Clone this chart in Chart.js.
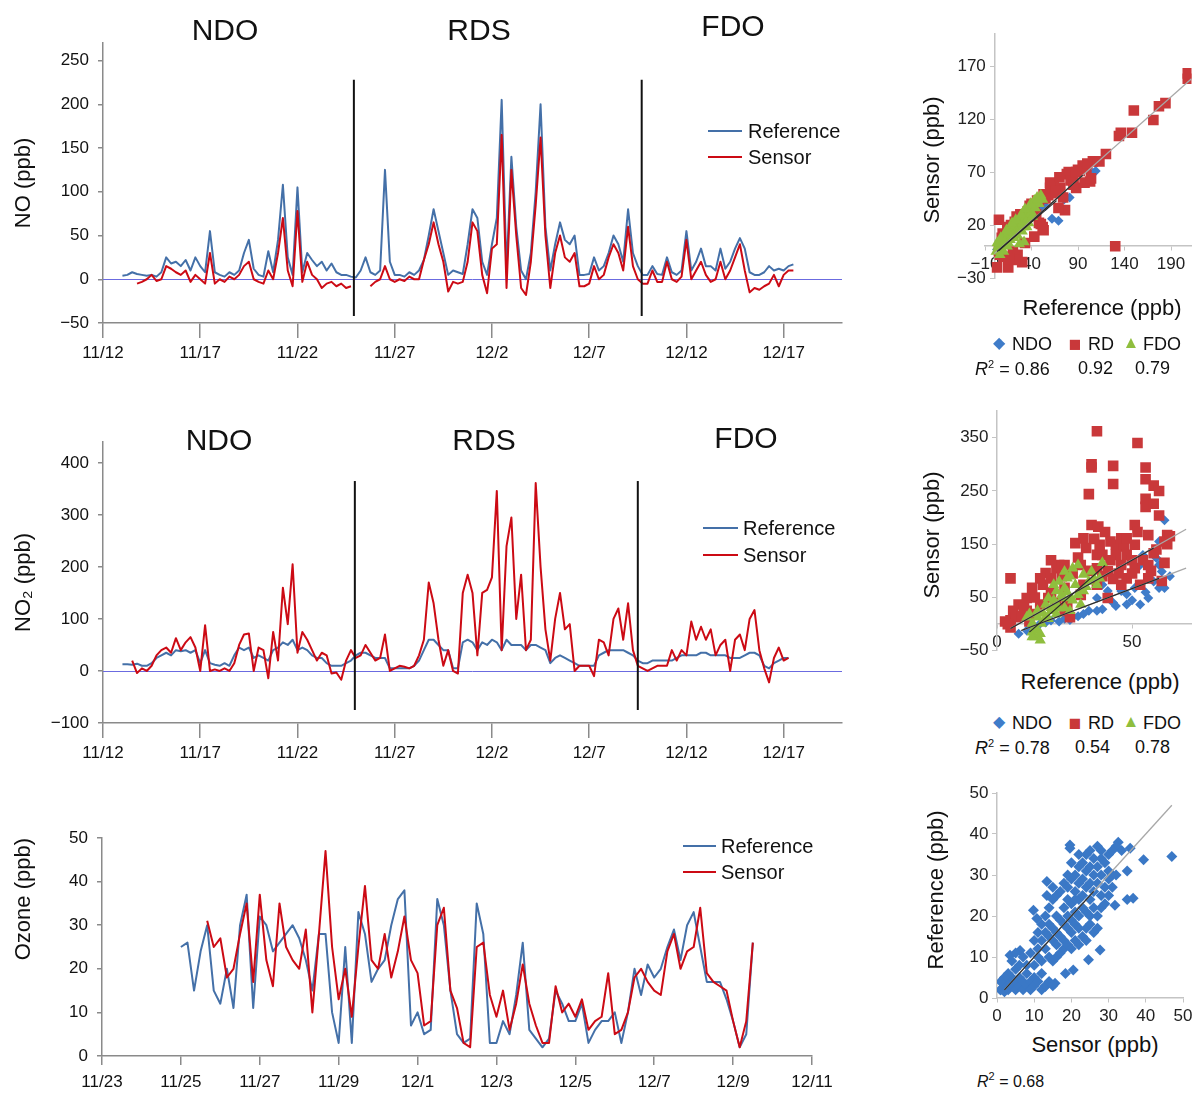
<!DOCTYPE html>
<html>
<head>
<meta charset="utf-8">
<title>NO, NO2 and ozone: sensor vs reference</title>
<script src="https://cdn.jsdelivr.net/npm/chart.js@4.4.1/dist/chart.umd.min.js"></script>
<style>
  body { margin: 0; background: #fff; font-family: "Liberation Sans", Arial, sans-serif; color: #111; }
  #page { position: relative; width: 1199px; height: 1094px; overflow: hidden; background: #fff; }
  canvas { position: absolute; }
  .t { position: absolute; white-space: nowrap; line-height: 1; transform: translate(-50%, -50%); }
  .tl { position: absolute; white-space: nowrap; line-height: 1; transform: translateY(-50%); }
  .rot { transform: translate(-50%, -50%) rotate(-90deg); }
  .sw { position: absolute; height: 0; border-top: 2px solid; }
  .big { font-size: 30px; }
  .leg { font-size: 20px; }
  .ttl { font-size: 22px; }
  .sm { font-size: 18px; }
  sup { font-size: 11px; vertical-align: 7px; }
</style>
</head>
<body>
<div id="page">
  <canvas id="noChart" width="860" height="380" style="left:0;top:0"></canvas>
  <canvas id="no2Chart" width="860" height="400" style="left:0;top:390px"></canvas>
  <canvas id="ozoneChart" width="860" height="304" style="left:0;top:790px"></canvas>
  <canvas id="noScatter" width="299" height="280" style="left:900px;top:20px"></canvas>
  <canvas id="no2Scatter" width="299" height="270" style="left:900px;top:395px"></canvas>
  <canvas id="ozoneScatter" width="299" height="260" style="left:900px;top:770px"></canvas>

  <!-- period labels -->
  <div class="t big" style="left:225px;top:30px">NDO</div>
  <div class="t big" style="left:479px;top:30px">RDS</div>
  <div class="t big" style="left:733px;top:26px">FDO</div>
  <div class="t big" style="left:219px;top:440px">NDO</div>
  <div class="t big" style="left:484px;top:440px">RDS</div>
  <div class="t big" style="left:746px;top:438px">FDO</div>

  <!-- time series legends -->
  <div class="sw" style="left:708px;top:130px;width:34px;border-color:#4470a8"></div>
  <div class="tl leg" style="left:748px;top:131px">Reference</div>
  <div class="sw" style="left:708px;top:156px;width:34px;border-color:#cc0a14"></div>
  <div class="tl leg" style="left:748px;top:157px">Sensor</div>

  <div class="sw" style="left:703px;top:527px;width:35px;border-color:#4470a8"></div>
  <div class="tl leg" style="left:743px;top:528px">Reference</div>
  <div class="sw" style="left:703px;top:554px;width:35px;border-color:#cc0a14"></div>
  <div class="tl leg" style="left:743px;top:555px">Sensor</div>

  <div class="sw" style="left:683px;top:845px;width:33px;border-color:#4470a8"></div>
  <div class="tl leg" style="left:721px;top:846px">Reference</div>
  <div class="sw" style="left:683px;top:871px;width:33px;border-color:#cc0a14"></div>
  <div class="tl leg" style="left:721px;top:872px">Sensor</div>

  <!-- scatter 1 captions -->
  <div class="t ttl rot" style="left:932px;top:160px">Sensor (ppb)</div>
  <div class="t ttl" style="left:1102px;top:308px">Reference (ppb)</div>
  <div class="t" style="left:999px;top:343px;font-size:16px;color:#3f7cc9">&#9670;</div>
  <div class="tl sm" style="left:1012px;top:344px">NDO</div>
  <div class="t" style="left:1075px;top:343px;font-size:21px;color:#c9383a">&#9632;</div>
  <div class="tl sm" style="left:1088px;top:344px">RD</div>
  <div class="t" style="left:1131px;top:342px;font-size:17px;color:#8fbe3e">&#9650;</div>
  <div class="tl sm" style="left:1143px;top:344px">FDO</div>
  <div class="tl sm" style="left:975px;top:368px"><i>R</i><sup>2</sup> = 0.86</div>
  <div class="tl sm" style="left:1078px;top:368px">0.92</div>
  <div class="tl sm" style="left:1135px;top:368px">0.79</div>

  <!-- scatter 2 captions -->
  <div class="t ttl rot" style="left:932px;top:535px">Sensor (ppb)</div>
  <div class="t ttl" style="left:1100px;top:682px">Reference (ppb)</div>
  <div class="t" style="left:999px;top:722px;font-size:16px;color:#3f7cc9">&#9670;</div>
  <div class="tl sm" style="left:1012px;top:723px">NDO</div>
  <div class="t" style="left:1075px;top:722px;font-size:21px;color:#c9383a">&#9632;</div>
  <div class="tl sm" style="left:1088px;top:723px">RD</div>
  <div class="t" style="left:1131px;top:721px;font-size:17px;color:#8fbe3e">&#9650;</div>
  <div class="tl sm" style="left:1143px;top:723px">FDO</div>
  <div class="tl sm" style="left:975px;top:747px"><i>R</i><sup>2</sup> = 0.78</div>
  <div class="tl sm" style="left:1075px;top:747px">0.54</div>
  <div class="tl sm" style="left:1135px;top:747px">0.78</div>

  <!-- scatter 3 captions -->
  <div class="t ttl rot" style="left:936px;top:890px">Reference (ppb)</div>
  <div class="t ttl" style="left:1095px;top:1045px">Sensor (ppb)</div>
  <div class="tl" style="left:977px;top:1080px;font-size:16px"><i>R</i><sup>2</sup> = 0.68</div>
</div>

<script>
Chart.defaults.font.family = '"Liberation Sans", Arial, sans-serif';
Chart.defaults.color = '#111';

// ---- time series (days since 11/12, one value every 6 h) ----
const noStart = 1, noStep = 0.25;
const noReference = [
  4, 5, 8, 6, 5, 4, 5, 3,
  8, 25, 18, 20, 15, 22, 10, 25,
  15, 8, 55, 8, 5, 3, 8, 5,
  10, 30, 45, 12, 5, 3, 32, 8,
  45, 108, 25, 5, 105, 8, 30, 22,
  15, 20, 10, 18, 8, 5, 5, 3,
  2, 10, 25, 8, 5, 10, 125, 20,
  5, 5, 3, 8, 5, 10, 22, 50,
  80, 55, 30, 5, 10, 8, 6, 40,
  80, 70, 20, 5, 40, 70, 205, 10,
  140, 60, 10, 0, 30, 100, 200, 60,
  10, 40, 65, 45, 40, 50, 5, 5,
  6, 25, 10, 15, 30, 50, 40, 20,
  80, 30, 15, 5, 5, 15, 6, 5,
  25, 8, 5, 10, 55, 10, 20, 35,
  15, 15, 10, 35, 12, 20, 35, 47,
  35, 8, 5, 5, 8, 15, 10, 12,
  10, 15, 17
];
const noSensor = [
  null, null, null, -5, -3, 0, 5, -2,
  0, 15, 12, 8, 5, 10, -3, 5,
  0, -5, 30, -5, 0, -3, 3, 0,
  5, 15, 20, 0, -3, -5, 10, 0,
  30, 70, 10, -8, 78, -3, 20, 5,
  0, -10, -5, -3, -8, -5, -10, -8,
  null, null, null, -8, -3, 0, 15, 0,
  -3, 0, -2, 3, 0, 0, 22, 40,
  65, 40, 20, -14, -3, -5, -3, 20,
  65, 55, 5, -16, 35, 40, 165, -10,
  125, 50, -10, -18, 20, 85, 162, 50,
  -10, 30, 50, 25, 20, 30, -8, -8,
  -5, 15, 0, 5, 25, 40, 30, 10,
  60, 15, 0, -5, -5, 10, -3, -3,
  20, 0, -3, 3, 45, 0, 10, 20,
  5, -3, 0, 20, 0, 10, 25, 40,
  10, -15, -10, -12, -8, -5, 5, -8,
  5, 10, 10
];

const no2Start = 1, no2Step = 0.25;
const no2Reference = [
  13, 13, 12, 14, 10, 10, 15, 25,
  30, 35, 30, 40, 38, 40, 35, 40,
  15, 40, 15, 12, 10, 15, 10, 30,
  45, 40, 45, 25, 30, 25, 20, 40,
  45, 55, 50, 60, 40, 45, 40, 30,
  25, 25, 15, 10, 10, 10, 15, 20,
  30, 35, 35, 30, 25, 25, 25, 5,
  5, 5, 5, 5, 10, 20, 40, 60,
  60, 50, 40, 40, 5, 5, 55, 60,
  55, 40, 55, 50, 60, 55, 40, 60,
  50, 50, 50, 40, 50, 50, 45, 40,
  15, 25, 30, 25, 20, 15, 10, 10,
  10, 10, 30, 35, 40, 40, 40, 40,
  35, 30, 20, 15, 15, 20, 20, 20,
  20, 20, 25, 30, 30, 30, 30, 35,
  35, 30, 30, 30, 30, 25, 25, 25,
  30, 35, 35, 30, 10, 5, 15, 20,
  25, 25
];
const no2Sensor = [
  null, null, 20, -4, 5, 0, 10, 30,
  40, 45, 35, 63, 40, 55, 65, 45,
  0, 88, 0, 3, 0, 5, 0, 15,
  50, 70, 72, 0, 45, 40, -14, 75,
  20, 160, 90, 205, 35, 75, 60, 40,
  20, 35, 30, -5, -3, -17, 20, 40,
  25, 30, 50, 35, 20, 25, 70, 0,
  5, 10, 8, 5, 10, 30, 60, 170,
  130, 60, 10, 40, 0, -5, 150, 185,
  150, 30, 150, 156, 180, 346, 40, 240,
  295, 100, 185, 40, 60, 361, 200, 80,
  20, 100, 150, 80, 90, 0, 10, 10,
  10, -10, 60, 55, 30, 100, 120, 60,
  130, 40, 10, 5, 0, 5, 10, 10,
  10, 40, 20, 40, 30, 95, 60, 85,
  60, 80, 30, 50, 60, 0, 60, 70,
  40, 100, 117, 40, 5, -22, 25, 45,
  20, 25
];

// days since 11/23, one value every 4 h
const ozoneStart = 2, ozoneStep = 1 / 6;
const ozoneReference = [
  25, 26, 15, 24, 30, 15,
  12, 20, 11, 30, 37, 11,
  32, 30, 24, 26, 28, 30,
  27, 22, 15, 28, 28, 10,
  3, 25, 3, 33, 28, 17,
  20, 22, 30, 36, 38, 7,
  10, 5, 6, 36, 30, 15,
  5, 3, 4, 35, 28, 3,
  3, 8, 5, 14, 26, 6,
  4, 2, 4, 15, 12, 8,
  8, 12, 3, 6, 8, 8,
  10, 3, 10, 20, 14, 21,
  18, 20, 25, 29, 22, 30,
  33, 25, 17, 17, 17, 13,
  8, 2, 5, 26
];
const ozoneSensor = [
  null, null, null, null, 31, 25,
  27, 18, 20, 28, 35, 17,
  37, 22, 16, 35, 25, 22,
  20, 29, 10, 28, 47, 25,
  13, 20, 9, 25, 39, 22,
  20, 28, 18, 24, 32, 22,
  19, 7, 8, 30, 34, 15,
  11, 3, 2, 25, 26, 14,
  9, 15, 6, 12, 21, 12,
  7, 3, 3, 16, 10, 12,
  9, 13, 6, 8, 9, 19,
  5, 6, 10, 18, 20, 17,
  15, 14, 24, 28, 20, 24,
  25, 34, 19, 17, 16, 15,
  8, 2, 8, 26
];

const studyDates = ['11/12', '11/17', '11/22', '11/27', '12/2', '12/7', '12/12', '12/17'];
const ozoneDates = ['11/23', '11/25', '11/27', '11/29', '12/1', '12/3', '12/5', '12/7', '12/9', '12/11'];
const noYTicks = [-50, 0, 50, 100, 150, 200, 250];
const no2YTicks = [-100, 0, 100, 200, 300, 400];
const ozoneYTicks = [0, 10, 20, 30, 40, 50];

// period boundaries (day) and the y range the divider spans
const noBreaks = [12.9, 27.7], noBreakSpan = [-42, 228];
const no2Breaks = [12.95, 27.5], no2BreakSpan = [-75, 365];

// ---- scatter: NO (x = reference, y = sensor) ----
const noNdoRef = [109, 106, 81, 75, 62, 69, 55, 45, 35, 30, 20, 15, 10, 8, 5, 3, 25, 40, 50, 18, 12, 28, 7];
const noNdoSen = [71, 69, 46, 44, 26, 24, 38, 30, 25, 20, 12, 8, 5, 3, 0, -3, 15, 28, 35, 14, 10, 18, 6];
const noRdRef = [
  208, 208, 184, 177, 171, 150, 148, 134, 136, 120, 106, 113, 99, 103, 92, 85, 88, 78, 71, 64,
  74, 76, 60, 53, 46, 50, 53, 43, 36, 29, 22, 15, 8, 5, 130, 10, 20, 30, 15, 25,
  22, 33, 43, 69, 85, 97, 104, 40, 45, 58, 65, 35, 28, 18, 12, 5, 3, 80, 90, 95,
  60, 66, 70, 82, 88, 100, 55, 48, 38, 32, 24, 14, 9, 6, 16, 48, 52
];
const noRdSen = [
  163, 158, 135, 132, 119, 128, 107, 104, 107, 87, 80, 80, 74, 61, 71, 64, 55, 68, 55, 58,
  46, 34, 55, 49, 43, 21, 15, 36, 33, 27, 23, 15, 8, 25, 0, -10, -5, -15, -20, -8,
  -13, 3, 9, 36, 58, 60, 64, 40, 30, 48, 50, 28, 30, 20, 5, -5, -20, 70, 72, 76,
  60, 52, 65, 62, 70, 78, 45, 42, 38, 25, 28, 18, 12, -8, -12, 22, 18
];
const noFdoRef = [
  2, 4, 5, 6, 8, 9, 10, 12, 12, 14, 15, 16, 18, 18, 20, 20, 22, 22, 24, 25,
  26, 28, 28, 30, 30, 32, 32, 34, 35, 36, 38, 38, 40, 40, 42, 44, 45, 46, 48, 50,
  52, 20, 15, 25, 30, 35, 27, 32,
  3, 7, 11, 13, 17, 19, 21, 23, 27, 29, 31, 33, 37, 39, 41, 43, 47, 10, 6, 14
];
const noFdoSen = [
  -5, 0, 3, -2, 5, 8, 2, 10, 6, 12, 8, 14, 10, 16, 15, 20, 12, 18, 20, 16,
  24, 20, 26, 22, 28, 30, 24, 28, 32, 26, 34, 30, 38, 32, 40, 36, 42, 46, 40, 48,
  44, 10, 3, 10, 14, 18, 2, 4,
  3, 8, 4, 15, 6, 22, 8, 25, 15, 30, 18, 35, 22, 40, 28, 43, 44, -5, -8, 0
];
const noFitX = [[0, 212], [5, 95], [3, 67]];
const noFitY = [[-7, 158], [-4, 67], [-5, 43]];
const noScatterXTicks = [-10, 40, 90, 140, 190];
const noScatterYTicks = [-30, 20, 70, 120, 170];

// ---- scatter: NO2 ----
const no2NdoRef = [
  62, 60, 56, 60, 53, 48, 44, 39, 37, 34, 32, 28, 25, 20, 16, 11, 8, 46, 41, 51,
  57, 59, 54, 53, 61, 60, 62, 48, 39, 37, 30, 27, 23, 18, 13, 43, 50, 55, 58, 64
];
const no2NdoSen = [
  195, 155, 49, 68, 37, 37, 34, 28, 25, 25, 19, 13, 10, 7, 1, -12, -18, 62, 62, 68,
  99, 124, 130, 111, 99, 111, 68, 56, 74, 49, 15, 8, 5, 3, -5, 40, 45, 60, 80, 90
];
const no2RdRef = [
  37, 52, 35, 35, 43, 43, 55, 55, 55, 55, 34, 58, 58, 60, 60, 63, 62, 61, 58, 56,
  51, 52, 35, 37.5, 40, 42, 44, 47, 48, 29, 32, 33, 37, 39, 46, 51, 56, 48, 53, 56,
  5, 23, 22, 16, 18, 13, 11, 8, 6, 5, 5, 7, 13, 19, 25, 26, 27, 32, 37, 41,
  44, 31, 25, 20, 38, 46, 48, 51, 17, 20, 11, 16, 25, 31, 37, 46, 41, 64, 63, 59,
  54, 50, 45, 42, 36, 30, 28, 24, 20, 14, 10, 9, 3, 4, 12, 22, 34, 39, 43, 50,
  57, 62
];
const no2RdSen = [
  362, 340, 300, 294, 297, 263, 294, 272, 235, 220, 244, 260, 226, 250, 204, 167, 155, 81, 133, 167,
  186, 173, 186, 183, 173, 155, 149, 146, 130, 152, 161, 143, 130, 130, 111, 105, 111, 86, 74, 86,
  86, 111, 105, 86, 96, 68, 49, 37, 25, 7, -6, 13, 19, 49, 68, 37, 13, 74, 105, 99,
  130, 111, 111, 120, 149, 161, 161, 149, 74, 86, 25, 37, 25, 55, 74, 74, 49, 165, 150, 140,
  120, 120, 95, 120, 160, 125, 95, 90, 60, 50, 30, 15, 5, 0, 5, 40, 100, 90, 85, 95,
  100, 115
];
const no2FdoRef = [
  14, 13, 15, 16.5, 18, 20, 22, 24, 25, 26, 28, 30, 39, 34, 37, 32, 27, 22, 18, 15,
  22, 27, 31, 21, 19, 25, 13, 15, 20, 29, 25, 32, 35, 38, 13, 16, 14, 11, 12, 17,
  19, 23, 24, 26, 28, 30, 33, 36, 21, 23, 27, 16
];
const no2FdoSen = [
  -24, -15, -12, 1, 13, 25, 37, 49, 68, 86, 105, 111, 115, 80, 74, 62, 49, 62, 37, 25,
  19, 25, 37, 74, 49, 31, 1, 13, 31, 74, 99, 93, 99, 86, -24, -18, -6, 13, 19, 20,
  10, 30, 55, 60, 45, 55, 70, 85, 45, 80, 90, -30
];
const no2FitX = [[5, 70], [9, 70], [5, 58], [9, 60], [12, 40]];
const no2FitY = [[-8, 178], [-12, 105], [-8, 143], [-12, 86], [-15, 110]];
const no2ScatterXTicks = [0, 50];
const no2ScatterYTicks = [-50, 50, 150, 250, 350];

// ---- scatter: ozone (x = sensor, y = reference) ----
const o3Sensor = [
  47, 39.4, 36.6, 35, 31.7, 35.8, 33.5, 32.6, 35, 27.7, 24.6, 19.6, 19.6, 13.4, 13.4, 9.8, 10.7, 3.5, 6.2, 20.5,
  18.4, 15.6, 13, 0.9, 1.8,
  1, 2, 2, 3, 3, 4, 4, 5, 5, 6, 6, 7, 7, 8, 8, 9, 9, 10, 10, 11,
  12, 12, 13, 14, 15, 3, 5, 6, 7, 8, 9, 10, 11, 12, 4, 5, 2, 1,
  11, 12, 13, 13, 14, 14, 15, 15, 16, 16, 16, 17, 17, 18, 18, 18, 19, 19, 20, 20,
  20, 21, 21, 22, 22, 22, 14, 15, 16, 17, 18, 19, 20, 21, 12, 13, 14, 15, 16, 11,
  10, 23, 24, 25, 24, 22, 19, 17, 18, 15,
  19, 20, 21, 21, 22, 22, 23, 23, 23, 24, 24, 24, 25, 25, 25, 26, 26, 26, 27, 27,
  27, 28, 28, 28, 29, 29, 30, 30, 30, 31, 26, 27, 28, 29, 30, 31, 27, 26, 24, 23,
  32, 31, 25, 28, 22, 20, 19, 21, 25, 32
];
const o3Reference = [
  34.5, 33.7, 24.3, 24, 22.6, 36.5, 36, 38, 31, 11.7, 9.3, 37.3, 36.5, 28.4, 25, 21.4, 19.4, 10.4, 11.6, 6.8,
  6, 3.6, 2.8, 2, 3.6,
  2, 3, 1.5, 4, 2, 3, 5, 2, 4, 3, 5, 2, 4, 3, 6, 4, 2, 5, 3, 4,
  2, 6, 3, 4, 3, 6, 7, 8, 10, 8, 11, 8, 10, 9, 9, 11, 5, 4,
  12, 14, 12, 16, 15, 18, 14, 17, 13, 16, 20, 15, 19, 14, 18, 22, 17, 20, 16, 19,
  23, 18, 21, 17, 20, 24, 10, 9, 10, 11, 12, 13, 12, 14, 18, 20, 22, 24, 25, 16,
  14, 15, 17, 18, 14, 13, 24, 26, 28, 27,
  27, 29, 26, 30, 28, 32, 25, 29, 33, 27, 31, 35, 24, 28, 32, 26, 30, 34, 28, 32,
  37, 25, 30, 36, 27, 33, 29, 35, 31, 30, 22, 20, 22, 23, 25, 27, 17, 16, 21, 22,
  37, 36, 36, 34, 35, 33, 30, 24, 20, 30
];
const o3FitX = [[2, 47], [2, 26]];
const o3FitY = [[2, 47], [2, 26]];
const o3ScatterTicks = [0, 10, 20, 30, 40, 50];

const BLUE = '#4470a8';
const RED = '#cc0a14';
const AXIS = '#8a8a8a';
const minus = v => String(v).replace('-', '\u2212');

// zero line under the data, period dividers over it
const dividers = {
  id: 'dividers',
  beforeDatasetsDraw(chart, args, opts) {
    if (!opts.zero) return;
    const { ctx, chartArea: a, scales: { y } } = chart;
    const py = Math.round(y.getPixelForValue(0)) + 0.5;
    ctx.save();
    ctx.strokeStyle = '#6b6be0';
    ctx.lineWidth = 1;
    ctx.beginPath();
    ctx.moveTo(a.left, py);
    ctx.lineTo(a.right, py);
    ctx.stroke();
    ctx.restore();
  },
  afterDatasetsDraw(chart, args, opts) {
    if (!opts.breaks) return;
    const { ctx, scales: { x, y } } = chart;
    ctx.save();
    ctx.strokeStyle = '#111';
    ctx.lineWidth = 2;
    opts.breaks.forEach(day => {
      const px = x.getPixelForValue(day);
      ctx.beginPath();
      ctx.moveTo(px, y.getPixelForValue(opts.span[0]));
      ctx.lineTo(px, y.getPixelForValue(opts.span[1]));
      ctx.stroke();
    });
    ctx.restore();
  }
};

function seriesChart(id, s) {
  const toPoints = vals => vals.map((v, i) => ({ x: s.start + i * s.step, y: v }));
  return new Chart(document.getElementById(id), {
    type: 'line',
    data: {
      datasets: [
        { label: 'Reference', data: toPoints(s.reference), borderColor: BLUE, borderWidth: 2, pointRadius: 0, order: 1, borderJoinStyle: 'round' },
        { label: 'Sensor', data: toPoints(s.sensor), borderColor: RED, borderWidth: 2, pointRadius: 0, order: 0, borderJoinStyle: 'round' }
      ]
    },
    options: {
      responsive: false,
      animation: false,
      events: [],
      layout: { padding: s.padding },
      plugins: {
        legend: { display: false },
        tooltip: { enabled: false },
        dividers: { zero: s.zero, breaks: s.breaks, span: s.span }
      },
      scales: {
        x: {
          type: 'linear',
          min: 0,
          max: s.xMax,
          afterBuildTicks: sc => { sc.ticks = s.xLabels.map((_, i) => ({ value: i * s.xStep })); },
          afterFit: sc => { sc.height = s.xHeight; },
          ticks: { callback: v => s.xLabels[Math.round(v / s.xStep)], font: { size: 17 }, padding: s.xPad, maxRotation: 0, autoSkip: false },
          grid: { drawOnChartArea: false, tickLength: s.xTick, color: AXIS, lineWidth: 1.5 },
          border: { color: AXIS, width: 1.5 }
        },
        y: {
          min: s.yMin,
          max: s.yMax,
          afterBuildTicks: sc => { sc.ticks = s.yTicks.map(v => ({ value: v })); },
          afterFit: sc => { sc.width = s.yWidth; },
          ticks: { callback: minus, font: { size: 17 }, padding: 9 },
          grid: { drawOnChartArea: false, tickLength: 5, color: AXIS, lineWidth: 1.5 },
          border: { color: AXIS, width: 1.5 },
          title: { display: true, text: s.yTitle, font: { size: 22 }, padding: { top: 11, bottom: 0 }, align: s.titleAlign }
        }
      }
    },
    plugins: [dividers]
  });
}

seriesChart('noChart', {
  reference: noReference, sensor: noSensor, start: noStart, step: noStep,
  xMax: 38, xStep: 5, xLabels: studyDates, xHeight: 45, xTick: 15, xPad: 5,
  yMin: -50, yMax: 270, yTicks: noYTicks, yWidth: 103, yTitle: 'NO (ppb)', titleAlign: 'center',
  padding: { left: 0, top: 43, right: 18, bottom: 12 },
  zero: true, breaks: noBreaks, span: noBreakSpan
});

seriesChart('no2Chart', {
  reference: no2Reference, sensor: no2Sensor, start: no2Start, step: no2Step,
  xMax: 38, xStep: 5, xLabels: studyDates, xHeight: 45, xTick: 15, xPad: 5,
  yMin: -100, yMax: 440, yTicks: no2YTicks, yWidth: 103, yTitle: 'NO\u2082 (ppb)', titleAlign: 'center',
  padding: { left: 0, top: 52, right: 18, bottom: 22 },
  zero: true, breaks: no2Breaks, span: no2BreakSpan
});

seriesChart('ozoneChart', {
  reference: ozoneReference, sensor: ozoneSensor, start: ozoneStart, step: ozoneStep,
  xMax: 18, xStep: 2, xLabels: ozoneDates, xHeight: 38, xTick: 9, xPad: 7,
  yMin: 0, yMax: 50, yTicks: ozoneYTicks, yWidth: 102, yTitle: 'Ozone (ppb)', titleAlign: 'end',
  padding: { left: 0, top: 48, right: 48, bottom: 0 },
  zero: false
});

const GROUP_STYLE = {
  NDO: { shape: 'rectRot', radius: 5, color: '#3f7cc9', order: 4 },
  RD: { shape: 'rect', radius: 7.5, color: '#c9383a', order: 3 },
  FDO: { shape: 'triangle', radius: 6.5, color: '#8fbe3e', order: 2 },
  O3: { shape: 'rectRot', radius: 5.5, color: '#3a78c6', order: 2 }
};

function scatterChart(id, s) {
  const datasets = s.groups.map(g => {
    const st = GROUP_STYLE[g.style];
    return {
      label: g.label,
      data: g.x.map((x, i) => ({ x, y: g.y[i] })),
      pointStyle: st.shape,
      pointRadius: st.radius,
      backgroundColor: st.color,
      borderWidth: 0,
      order: st.order
    };
  });
  s.fitX.forEach((fx, i) => {
    datasets.push({
      label: 'fit',
      data: fx.map((x, k) => ({ x, y: s.fitY[i][k] })),
      showLine: true,
      pointRadius: 0,
      borderColor: i < s.greyFits ? '#a8a8a8' : '#2a2a2a',
      borderWidth: i < s.greyFits ? 1.3 : 1.2,
      order: i < s.greyFits ? 1 : 0
    });
  });
  // axes crossing at zero; y labels sit against the crossing line, so pad them with an en space
  const axis = (min, max, ticks, pos, fmt) => ({
    type: 'linear',
    position: pos,
    min, max,
    afterBuildTicks: sc => { sc.ticks = ticks.map(v => ({ value: v })); },
    ticks: { callback: fmt, font: { size: 17 }, color: '#222', padding: 4, maxRotation: 0, autoSkip: false },
    grid: { drawOnChartArea: false, tickLength: 4, color: '#c4c4c4' },
    border: { color: '#c4c4c4', width: 1.5 }
  });
  return new Chart(document.getElementById(id), {
    type: 'scatter',
    data: { datasets },
    options: {
      responsive: false,
      animation: false,
      events: [],
      layout: { padding: s.padding },
      plugins: { legend: { display: false }, tooltip: { enabled: false } },
      scales: {
        x: axis(s.xMin, s.xMax, s.xTicks, { y: 0 }, minus),
        y: axis(s.yMin, s.yMax, s.yTicks, { x: 0 }, v => minus(v) + '\u2002')
      }
    }
  });
}

scatterChart('noScatter', {
  groups: [
    { label: 'NDO', style: 'NDO', x: noNdoRef, y: noNdoSen },
    { label: 'RD', style: 'RD', x: noRdRef, y: noRdSen },
    { label: 'FDO', style: 'FDO', x: noFdoRef, y: noFdoSen }
  ],
  fitX: noFitX, fitY: noFitY, greyFits: 1,
  xMin: -10, xMax: 212, xTicks: noScatterXTicks,
  yMin: -30, yMax: 200, yTicks: noScatterYTicks,
  padding: { left: 85, top: 10, right: 6, bottom: 22 }
});

scatterChart('no2Scatter', {
  groups: [
    { label: 'NDO', style: 'NDO', x: no2NdoRef, y: no2NdoSen },
    { label: 'RD', style: 'RD', x: no2RdRef, y: no2RdSen },
    { label: 'FDO', style: 'FDO', x: no2FdoRef, y: no2FdoSen }
  ],
  fitX: no2FitX, fitY: no2FitY, greyFits: 2,
  xMin: 0, xMax: 72, xTicks: no2ScatterXTicks,
  yMin: -50, yMax: 400, yTicks: no2ScatterYTicks,
  padding: { left: 97, top: 16, right: 1, bottom: 11 }
});

scatterChart('ozoneScatter', {
  groups: [
    { label: 'Ozone', style: 'O3', x: o3Sensor, y: o3Reference }
  ],
  fitX: o3FitX, fitY: o3FitY, greyFits: 1,
  xMin: 0, xMax: 50, xTicks: o3ScatterTicks,
  yMin: 0, yMax: 50, yTicks: o3ScatterTicks,
  padding: { left: 97, top: 23, right: 16, bottom: 32 }
});
</script>
</body>
</html>
